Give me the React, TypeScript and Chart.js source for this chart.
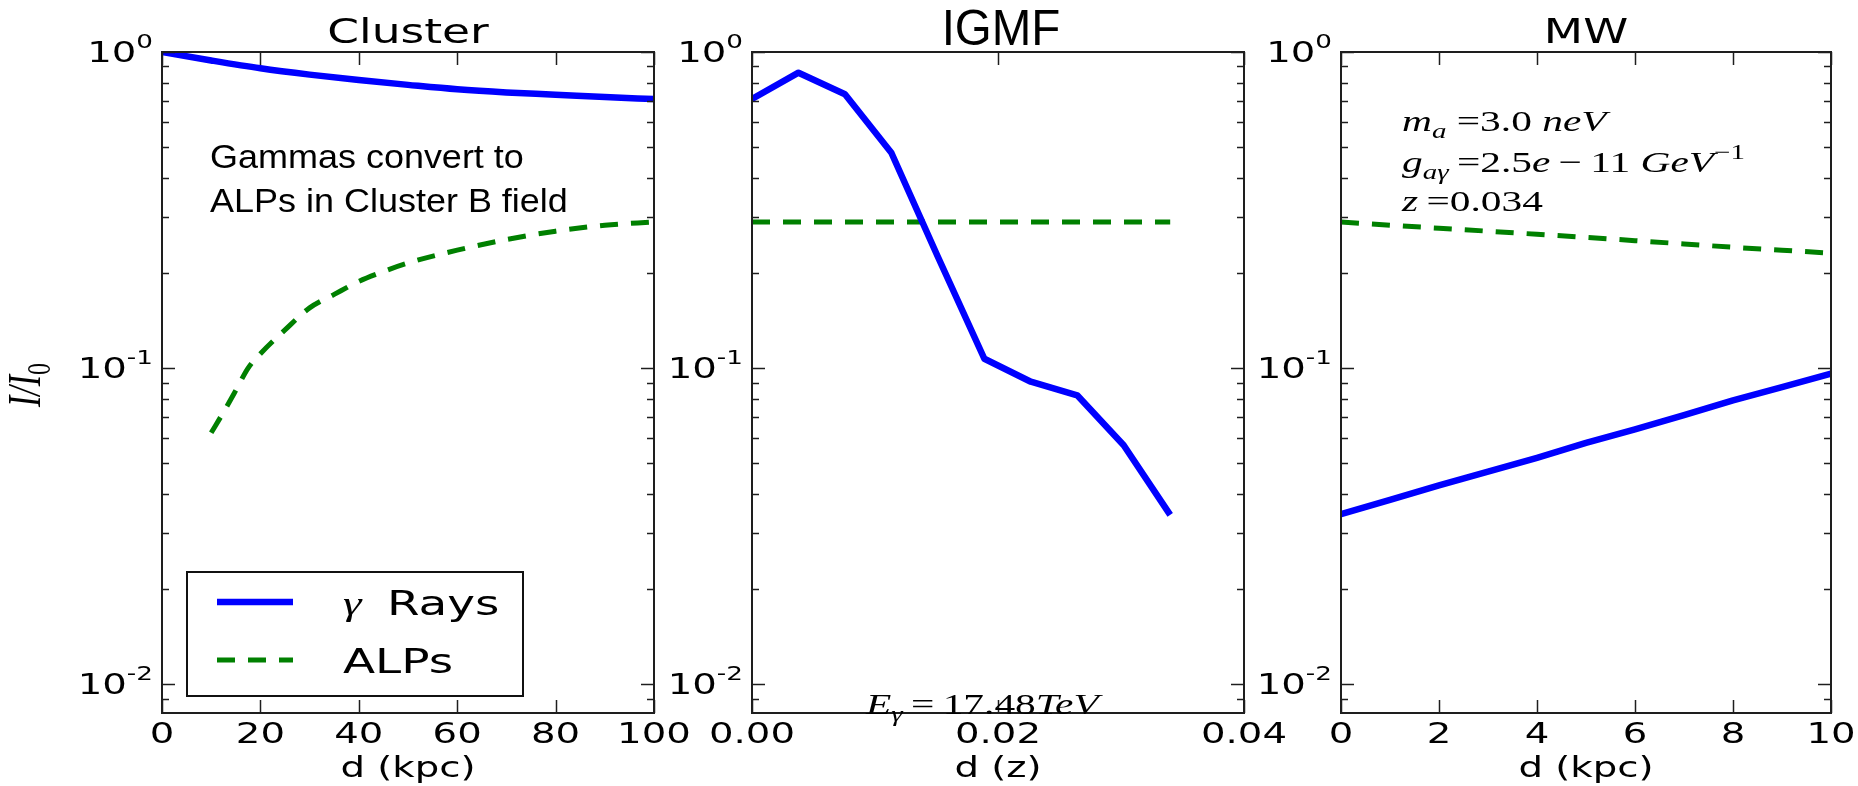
import React, { useEffect, useRef } from "react";
import { Chart, registerables } from "chart.js";

Chart.register(...registerables);

// ---------------- data ----------------
// Panel 1: Cluster (d in kpc)
const clusterD = [0, 10, 20, 30, 40, 50, 60, 70, 80, 90, 100];
const clusterGamma = [1.0, 0.94, 0.888, 0.848, 0.815, 0.787, 0.762, 0.745, 0.733, 0.72, 0.71];
const clusterAlpD = [10, 12.5, 15, 17.5, 20, 25, 30, 35, 40, 45, 50, 60, 70, 80, 90, 100];
const clusterAlp = [0.0624, 0.0725, 0.085, 0.1, 0.111, 0.132, 0.155, 0.171, 0.188, 0.202, 0.215, 0.236, 0.255, 0.271, 0.283, 0.29];
const clusterTicks = [0, 20, 40, 60, 80, 100];
const clusterTickLabels = ["0", "20", "40", "60", "80", "100"];

// Panel 2: IGMF (d in z)
const igmfZ = [0, 0.00378, 0.00756, 0.01133, 0.01511, 0.01889, 0.02267, 0.02644, 0.03022, 0.034];
const igmfGamma = [0.71, 0.86, 0.735, 0.48, 0.225, 0.107, 0.0905, 0.082, 0.057, 0.0343];
const igmfAlp = [0.29, 0.29, 0.29, 0.29, 0.29, 0.29, 0.29, 0.29, 0.29, 0.29];
const igmfTicks = [0, 0.02, 0.04];
const igmfTickLabels = ["0.00", "0.02", "0.04"];

// Panel 3: MW (d in kpc)
const mwD = [0, 1, 2, 3, 4, 5, 6, 7, 8, 9, 10];
const mwGamma = [0.0345, 0.0383, 0.0425, 0.047, 0.052, 0.058, 0.064, 0.071, 0.079, 0.087, 0.096];
const mwAlp = [0.29, 0.283, 0.277, 0.271, 0.265, 0.259, 0.253, 0.247, 0.241, 0.236, 0.231];
const mwTicks = [0, 2, 4, 6, 8, 10];
const mwTickLabels = ["0", "2", "4", "6", "8", "10"];

// shared log y axis
const yMajorTicks = [1, 0.1, 0.01];
const yMajorExp = ["0", "-1", "-2"];
const yMinorTicks = [0.009, 0.02, 0.03, 0.04, 0.05, 0.06, 0.07, 0.08, 0.09, 0.2, 0.3, 0.4, 0.5, 0.6, 0.7, 0.8, 0.9];
const seriesLabels = ["γ Rays", "ALPs"];

// ---------------- layout / style ----------------
const W = 1858;
const H = 786;
const TOP = 52;
const BOTTOM = 713;
const SX = 1.38; // horizontal stretch of the original figure text
const Y_MIN = 0.0081;
const Y_MAX = 1;
const BLUE = "#0000ff";
const GREEN = "#008000";
const DASH = [18, 13];
const SANS = "'DejaVu Sans'";
const SERIF = "'Liberation Serif'";
const ARIAL = "'Liberation Sans'";
const THIN = "\u2009";

type Seg = { t: string; it?: boolean; sub?: boolean; sup?: boolean };

function txt(ctx: CanvasRenderingContext2D, s: string, x: number, y: number, font: string, align: string, sx = SX) {
  ctx.save();
  ctx.font = font;
  ctx.textBaseline = "alphabetic";
  ctx.textAlign = "left";
  const w = ctx.measureText(s).width * sx;
  const x0 = align === "left" ? x : align === "center" ? x - w / 2 : x - w;
  ctx.translate(x0, y);
  ctx.scale(sx, 1);
  ctx.fillText(s, 0, 0);
  ctx.restore();
  return w;
}

function rich(ctx: CanvasRenderingContext2D, segs: Seg[], x: number, y: number, size: number, family: string, sx: number, align = "left") {
  const fontOf = (s: Seg) => `${s.it ? "italic " : ""}${s.sub || s.sup ? Math.round(size * 0.7) : size}px ${family}`;
  let w = 0;
  for (const s of segs) {
    ctx.font = fontOf(s);
    w += ctx.measureText(s.t).width;
  }
  const x0 = align === "center" ? x - (w * sx) / 2 : x;
  ctx.save();
  ctx.translate(x0, y);
  ctx.scale(sx, 1);
  ctx.textBaseline = "alphabetic";
  ctx.textAlign = "left";
  let cx = 0;
  for (const s of segs) {
    ctx.font = fontOf(s);
    const dy = s.sub ? size * 0.22 : s.sup ? -size * 0.42 : 0;
    ctx.fillText(s.t, cx, dy);
    cx += ctx.measureText(s.t).width;
  }
  ctx.restore();
  return w * sx;
}

type Panel = {
  left: number;
  right: number;
  xMin: number;
  xMax: number;
  xTicks: number[];
  xTickLabels: string[];
  title: string;
  titleArial?: boolean;
  xLabel: string;
  gammaX: number[];
  gamma: number[];
  alpX: number[];
  alp: number[];
  smooth: boolean;
  extra?: (ctx: CanvasRenderingContext2D, chart: any) => void;
};

function line(ctx: CanvasRenderingContext2D, x1: number, y1: number, x2: number, y2: number) {
  ctx.beginPath();
  ctx.moveTo(x1, y1);
  ctx.lineTo(x2, y2);
  ctx.stroke();
}

function axesPlugin(p: Panel) {
  return {
    id: "mplAxes",
    afterDatasetsDraw(chart: any) {
      const ctx: CanvasRenderingContext2D = chart.ctx;
      const { left, right, top, bottom } = chart.chartArea;
      const xs = chart.scales.x;
      const ys = chart.scales.y;
      ctx.save();
      ctx.strokeStyle = "#1e1e1e";
      ctx.lineWidth = 1.5;
      for (const v of yMinorTicks) {
        const py = Math.round(ys.getPixelForValue(v)) + 0.5;
        line(ctx, left, py, left + 7, py);
        line(ctx, right, py, right - 7, py);
      }
      for (const v of yMajorTicks) {
        const py = Math.round(ys.getPixelForValue(v)) + 0.5;
        line(ctx, left, py, left + 13, py);
        line(ctx, right, py, right - 13, py);
      }
      for (const v of p.xTicks) {
        const px = Math.round(xs.getPixelForValue(v)) + 0.5;
        line(ctx, px, bottom, px, bottom - 13);
        line(ctx, px, top, px, top + 13);
      }
      ctx.lineWidth = 2;
      ctx.strokeRect(left, top, right - left, bottom - top);

      ctx.fillStyle = "#000";
      // y tick labels 10^n
      yMajorTicks.forEach((v, i) => {
        const py = ys.getPixelForValue(v);
        ctx.font = `19px ${SANS}`;
        const ws = ctx.measureText(yMajorExp[i]).width * SX;
        const xr = left - 9;
        txt(ctx, yMajorExp[i], xr - ws, py - 4, `19px ${SANS}`, "left");
        txt(ctx, "10", xr - ws, py + 10, `28px ${SANS}`, "right");
      });
      // x tick labels
      p.xTicks.forEach((v, i) => {
        const px = xs.getPixelForValue(v);
        txt(ctx, p.xTickLabels[i], px, 743, `28px ${SANS}`, "center");
      });
      const cx = (left + right) / 2;
      txt(ctx, p.xLabel, cx, 777, `28px ${SANS}`, "center");
      if (p.titleArial) txt(ctx, p.title, cx + 3, 45, `50px ${ARIAL}`, "center", 0.95);
      else txt(ctx, p.title, cx, 43, `33px ${SANS}`, "center");
      if (p.extra) p.extra(ctx, chart);
      ctx.restore();
    },
  };
}

function clusterExtra(ctx: CanvasRenderingContext2D, chart: any) {
  const { left, bottom } = chart.chartArea;
  // annotation
  ctx.fillStyle = "#000";
  txt(ctx, "Gammas convert to", left + 48, 168, `33px ${ARIAL}`, "left", 1.09);
  txt(ctx, "ALPs in Cluster B field", left + 48, 212, `33px ${ARIAL}`, "left", 1.09);
  // legend
  const bx = left + 25;
  const by = bottom - 141;
  ctx.fillStyle = "#fff";
  ctx.fillRect(bx, by, 336, 124);
  ctx.strokeStyle = "#111";
  ctx.lineWidth = 2;
  ctx.strokeRect(bx, by, 336, 124);
  const ds = chart.data.datasets;
  const rows = [by + 30, by + 88];
  ds.forEach((d: any, i: number) => {
    ctx.save();
    ctx.strokeStyle = d.borderColor;
    ctx.lineWidth = d.borderWidth;
    ctx.setLineDash(d.borderDash || []);
    line(ctx, bx + 30, rows[i], bx + 106, rows[i]);
    ctx.restore();
  });
  ctx.fillStyle = "#000";
  rich(ctx, [{ t: "γ", it: true }], bx + 156, rows[0] + 13, 34, SERIF, SX);
  txt(ctx, seriesLabels[0].replace("γ ", ""), bx + 200, rows[0] + 13, `34px ${SANS}`, "left");
  txt(ctx, seriesLabels[1], bx + 156, rows[1] + 13, `34px ${SANS}`, "left");
  // y axis label I/I0
  ctx.save();
  ctx.translate(40, 385);
  ctx.scale(SX, 1);
  ctx.rotate(-Math.PI / 2);
  ctx.fillStyle = "#000";
  rich(ctx, [{ t: "I", it: true }, { t: "/", it: true }, { t: "I", it: true }, { t: "0", sub: true }], 0, 0, 34, SERIF, 1, "center");
  ctx.restore();
}

function igmfExtra(ctx: CanvasRenderingContext2D, chart: any) {
  ctx.fillStyle = "#000";
  rich(
    ctx,
    [{ t: "E", it: true }, { t: "γ", it: true, sub: true }, { t: THIN + "=" + THIN }, { t: "17.48" }, { t: "TeV", it: true }],
    866,
    714,
    30,
    SERIF,
    SX
  );
}

function mwExtra(ctx: CanvasRenderingContext2D, chart: any) {
  ctx.fillStyle = "#000";
  const x = 1402;
  rich(ctx, [{ t: "m", it: true }, { t: "a", it: true, sub: true }, { t: " =" }, { t: "3.0 " }, { t: "neV", it: true }], x, 131, 30, SERIF, SX);
  rich(
    ctx,
    [
      { t: "g", it: true },
      { t: "aγ", it: true, sub: true },
      { t: THIN + "=" },
      { t: "2.5" },
      { t: "e", it: true },
      { t: THIN + "−" + THIN },
      { t: "11 " },
      { t: "GeV", it: true },
      { t: "−1", sup: true },
    ],
    x,
    172,
    30,
    SERIF,
    SX
  );
  rich(ctx, [{ t: "z", it: true }, { t: THIN + "=" }, { t: "0.034" }], x, 211, 30, SERIF, SX);
}

const panels: Panel[] = [
  {
    left: 162, right: 654, xMin: 0, xMax: 100,
    xTicks: clusterTicks, xTickLabels: clusterTickLabels,
    title: "Cluster", xLabel: "d (kpc)",
    gammaX: clusterD, gamma: clusterGamma, alpX: clusterAlpD, alp: clusterAlp,
    smooth: true, extra: clusterExtra,
  },
  {
    left: 752, right: 1244, xMin: 0, xMax: 0.04,
    xTicks: igmfTicks, xTickLabels: igmfTickLabels,
    title: "IGMF", titleArial: true, xLabel: "d (z)",
    gammaX: igmfZ, gamma: igmfGamma, alpX: igmfZ, alp: igmfAlp,
    smooth: false, extra: igmfExtra,
  },
  {
    left: 1341, right: 1831, xMin: 0, xMax: 10,
    xTicks: mwTicks, xTickLabels: mwTickLabels,
    title: "MW", xLabel: "d (kpc)",
    gammaX: mwD, gamma: mwGamma, alpX: mwD, alp: mwAlp,
    smooth: false, extra: mwExtra,
  },
];

function makeChart(canvas: HTMLCanvasElement, p: Panel) {
  return new Chart(canvas, {
    type: "line",
    data: {
      datasets: [
        {
          label: seriesLabels[0],
          data: p.gammaX.map((x, i) => ({ x, y: p.gamma[i] })),
          borderColor: BLUE,
          borderWidth: 6.5,
          pointRadius: 0,
          fill: false,
          tension: 0,
          cubicInterpolationMode: p.smooth ? "monotone" : "default",
          borderJoinStyle: "round",
          clip: 0,
        } as any,
        {
          label: seriesLabels[1],
          data: p.alpX.map((x, i) => ({ x, y: p.alp[i] })),
          borderColor: GREEN,
          borderWidth: 5,
          borderDash: DASH,
          pointRadius: 0,
          fill: false,
          tension: 0,
          cubicInterpolationMode: p.smooth ? "monotone" : "default",
          clip: 0,
        } as any,
      ],
    },
    options: {
      responsive: false,
      animation: false,
      events: [],
      layout: { padding: { left: p.left, right: W - p.right, top: TOP, bottom: H - BOTTOM } },
      plugins: { legend: { display: false }, tooltip: { enabled: false }, title: { display: false } },
      scales: {
        x: { type: "linear", min: p.xMin, max: p.xMax, display: false, bounds: "data" },
        y: { type: "logarithmic", min: Y_MIN, max: Y_MAX, display: false, bounds: "data" },
      },
    } as any,
    plugins: [axesPlugin(p)],
  });
}

export default function App() {
  const r1 = useRef<HTMLCanvasElement>(null);
  const r2 = useRef<HTMLCanvasElement>(null);
  const r3 = useRef<HTMLCanvasElement>(null);
  useEffect(() => {
    const refs = [r1, r2, r3];
    const charts = refs.map((r, i) => makeChart(r.current as HTMLCanvasElement, panels[i]));
    return () => charts.forEach((c) => c.destroy());
  }, []);
  return (
    <div style={{ position: "absolute", left: 0, top: 0, width: W, height: H, background: "#fff", overflow: "hidden" }}>
      {[r1, r2, r3].map((r, i) => (
        <canvas key={i} ref={r} width={W} height={H} style={{ position: "absolute", left: 0, top: 0, width: W, height: H }} />
      ))}
    </div>
  );
}
